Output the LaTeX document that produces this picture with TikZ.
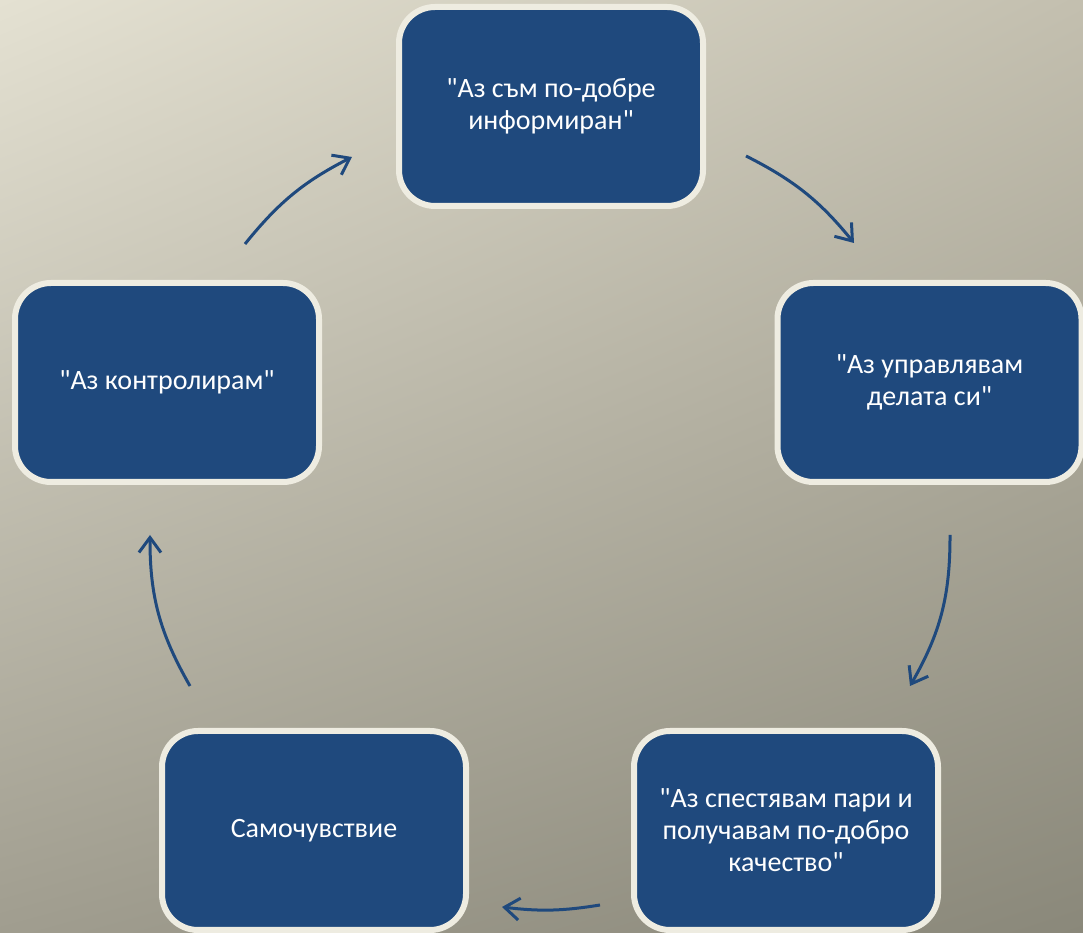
\documentclass[tikz,border=0pt]{standalone}
\usepackage{fontspec}
\setmainfont{Carlito}[Ligatures=TeXOff]
\usetikzlibrary{arrows.meta,shadings}
\definecolor{boxblue}{HTML}{1F497D}
\definecolor{boxedge}{HTML}{EEECE1}
\definecolor{bgTL}{HTML}{E4E1D2}
\definecolor{bgTR}{HTML}{C3BFAF}
\definecolor{bgBL}{HTML}{A09D8F}
\definecolor{bgBR}{HTML}{8A887A}
\tikzset{
  cyclebox/.style={draw=boxedge, line width=6pt, fill=boxblue, rounded corners=36pt,
    minimum width=304pt, minimum height=199pt, align=center, text=white,
    font=\fontsize{28pt}{32pt}\selectfont, inner sep=0pt},
  cyclearrow/.style={draw=boxblue, line width=3pt,
    -{Straight Barb[length=15pt,width=22pt,line width=3pt]}}
}
\begin{document}
\begin{tikzpicture}[x=1pt,y=1pt]
\shade[upper left=bgTL, upper right=bgTR, lower left=bgBL, lower right=bgBR] (0,0) rectangle (1083,933);
\useasboundingbox (0,0) rectangle (1083,933);
\node[cyclebox] (top) at (551,826.5) {"Аз съм по-добре\\информиран"};
\node[cyclebox] (right) at (929.5,550.5) {"Аз управлявам\\делата си"};
\node[cyclebox] (left) at (167,550.5) {"Аз контролирам"};
\node[cyclebox] (bl) at (314,102.5) {Самочувствие};
\node[cyclebox] (br) at (786,102.5) {"Аз спестявам пари и\\получавам по-добро\\качество"};
\coordinate (a1s) at (245,689);
\coordinate (a1e) at (352,776);
\coordinate (a2s) at (746,777);
\coordinate (a2e) at (854,690);
\coordinate (a3s) at (950,398);
\coordinate (a3e) at (910,247);
\coordinate (a4s) at (600,28);
\coordinate (a4e) at (502,26);
\coordinate (a5s) at (190,247);
\coordinate (a5e) at (150,398);
\draw[cyclearrow] (a1s) to[bend left=12] (a1e);
\draw[cyclearrow] (a2s) to[bend left=12] (a2e);
\draw[cyclearrow] (a3s) to[bend left=15] (a3e);
\draw[cyclearrow] (a4s) to[bend left=8] (a4e);
\draw[cyclearrow] (a5s) to[bend left=15] (a5e);
\end{tikzpicture}
\end{document}
